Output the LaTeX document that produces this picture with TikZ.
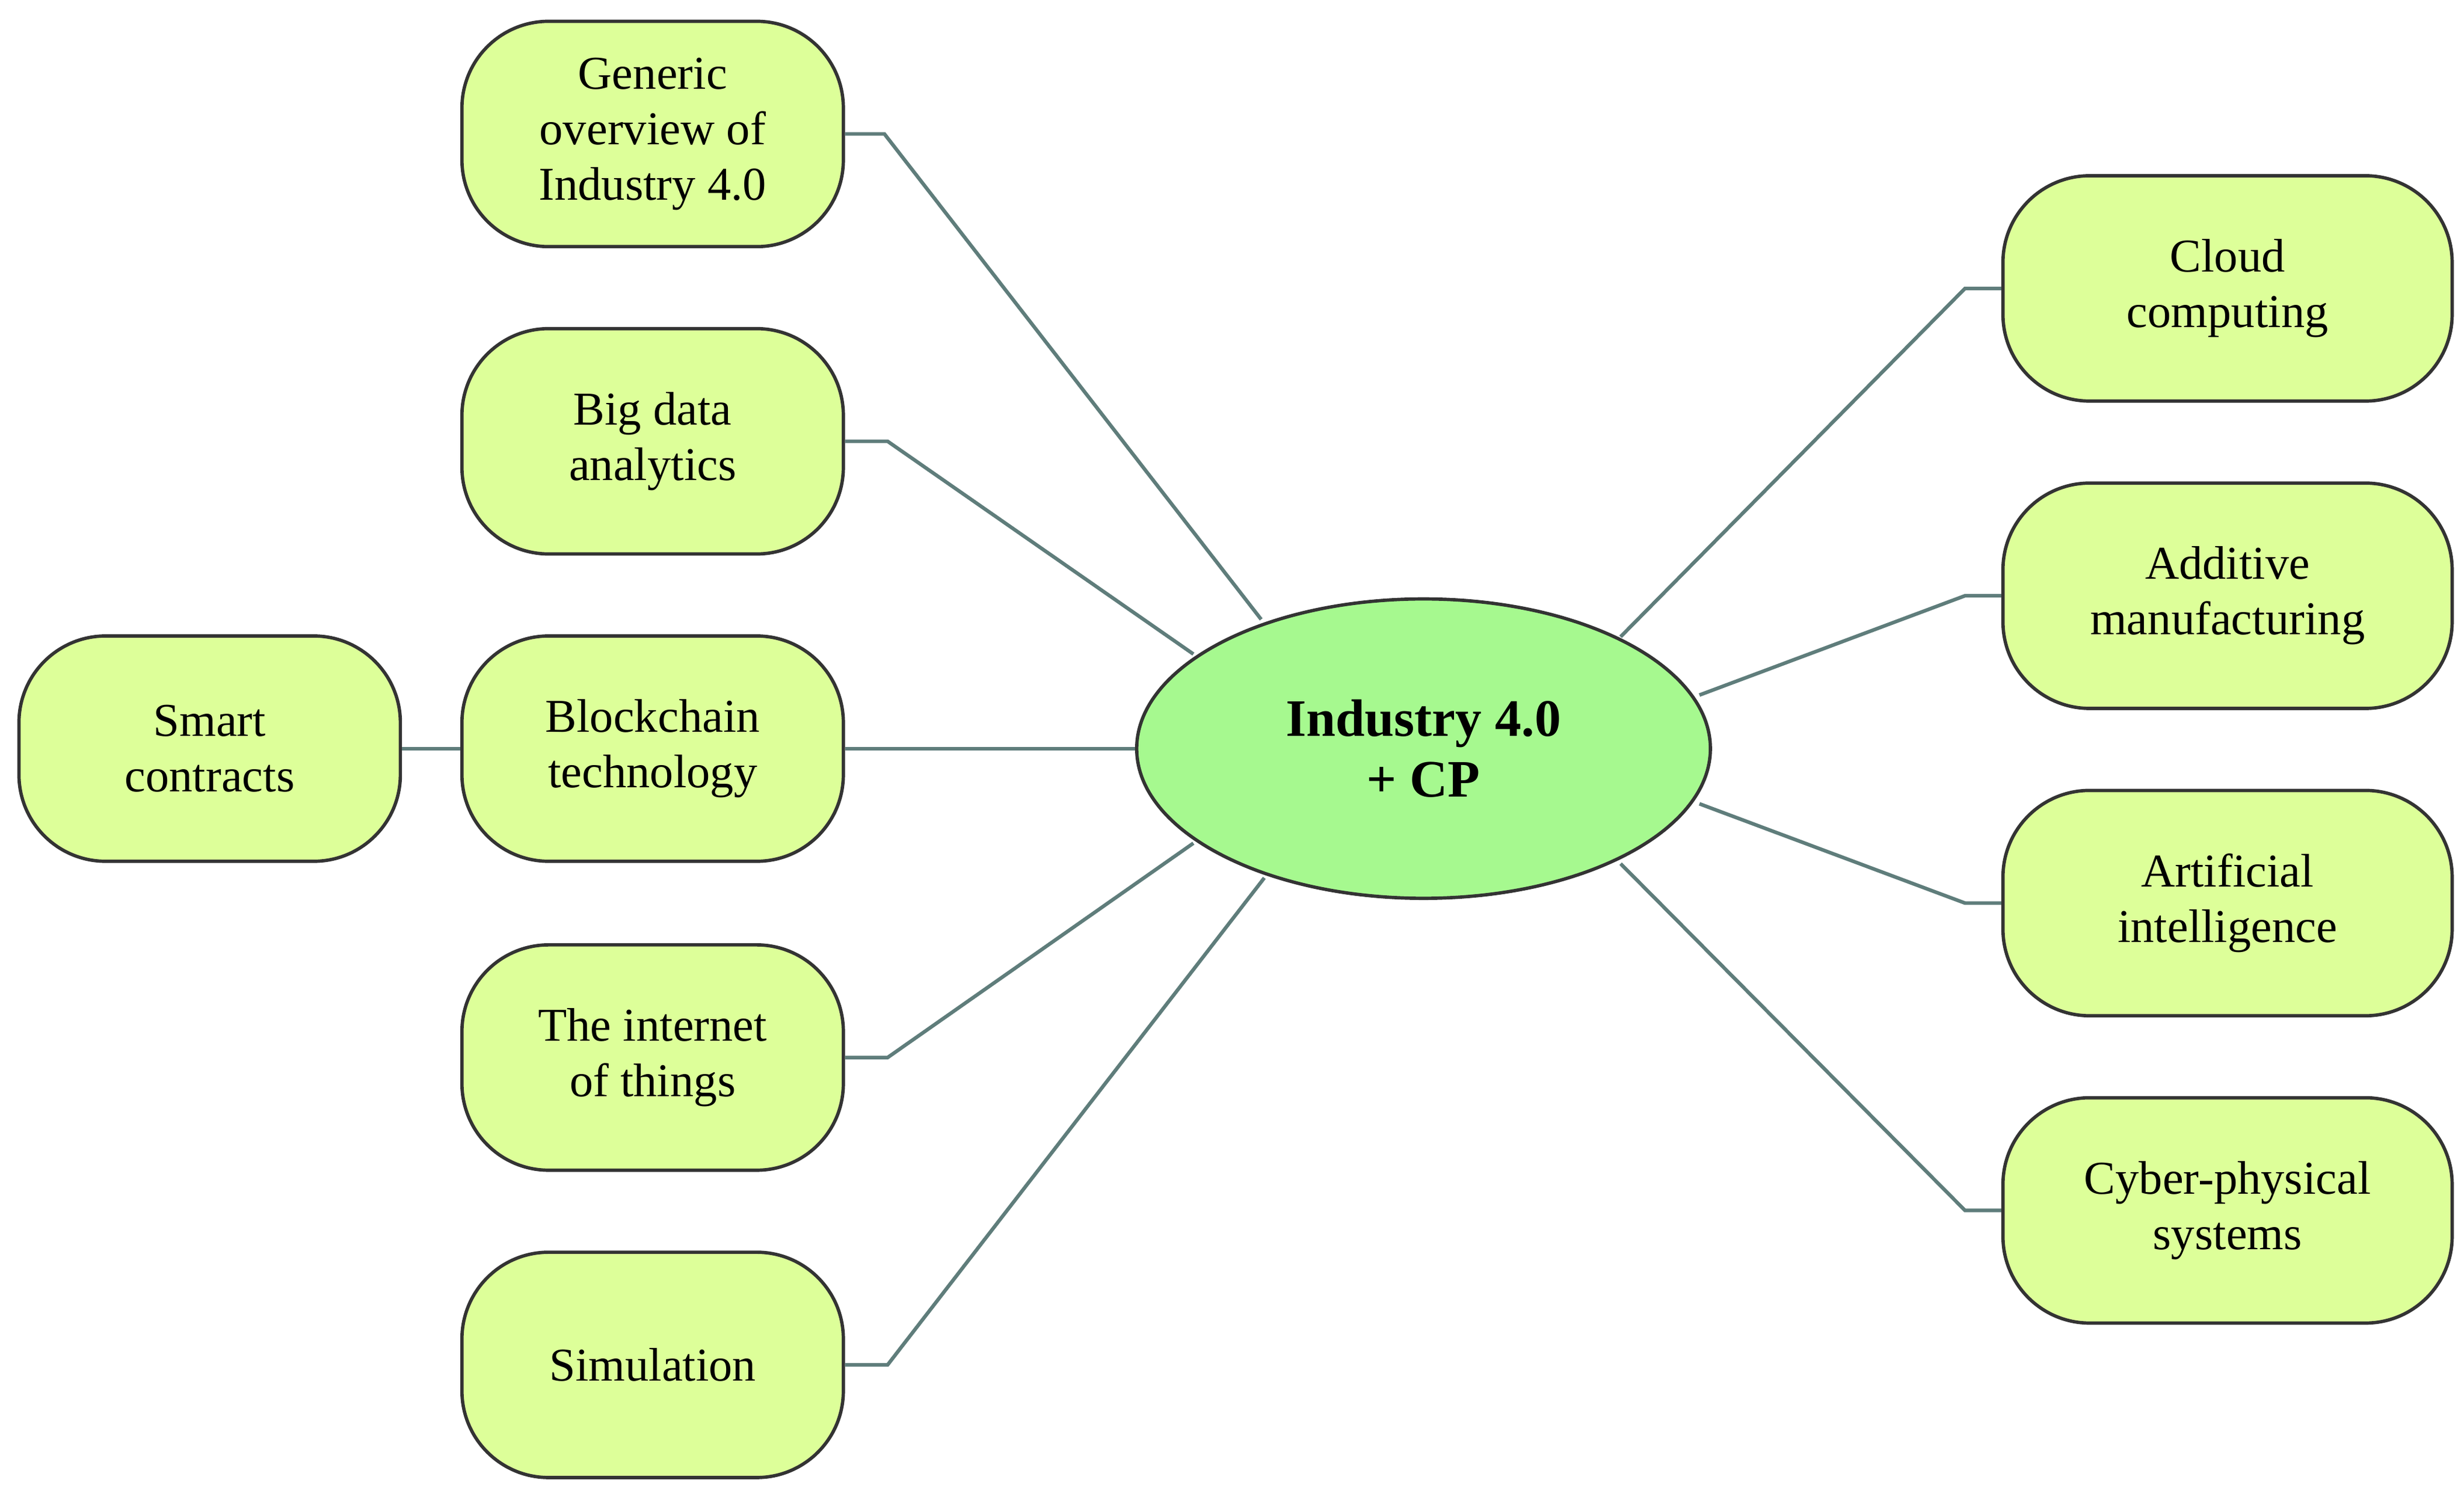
\documentclass[tikz,border=0pt]{standalone}
\usepackage{fontspec}
\setmainfont{Liberation Serif}
\usetikzlibrary{shapes.geometric}
\begin{document}
\begin{tikzpicture}[x=0.02cm,y=-0.02cm,
  box/.style={draw=black!80,line width=1.2pt,fill=boxc,rounded corners=1.1cm,minimum width=4.84cm,minimum height=2.86cm,align=center,font=\fontsize{17}{20}\selectfont,inner sep=2pt},
  rbox/.style={box,minimum width=5.7cm},
  link/.style={draw=linec,line width=1.3pt}]
\definecolor{boxc}{HTML}{DDFF99}
\definecolor{ellc}{HTML}{A6F98F}
\definecolor{linec}{HTML}{5F7D7B}
\useasboundingbox (0,0) rectangle (1563,946);
\node[ellipse,draw=black!80,line width=1.2pt,fill=ellc,minimum width=7.28cm,minimum height=3.8cm,align=center,font=\bfseries\fontsize{19}{22}\selectfont] (c) at (903,475) {Industry 4.0\\+ CP};
\node[box] (g) at (414,85) {Generic\\overview of\\Industry 4.0};
\node[box] (b) at (414,280) {Big data\\analytics};
\node[box] (bc) at (414,475) {Blockchain\\technology};
\node[box] (s) at (133,475) {Smart\\contracts};
\node[box] (i) at (414,671) {The internet\\of things};
\node[box] (sim) at (414,866) {Simulation};
\node[rbox] (cl) at (1413,183) {Cloud\\computing};
\node[rbox] (am) at (1413,378) {Additive\\manufacturing};
\node[rbox] (ai) at (1413,573) {Artificial\\intelligence};
\node[rbox] (cps) at (1413,768) {Cyber-physical\\systems};
\coordinate (pg) at (800,393); \coordinate (pb) at (757,415);
\coordinate (pi) at (757,535); \coordinate (ps) at (802,557);
\coordinate (pcl) at (1028,404); \coordinate (pam) at (1078,441);
\coordinate (pai) at (1078,510); \coordinate (pcps) at (1028,548);
\begin{scope}[on background layer/.style={}]
\draw[link] (g.east) -- ++(25,0) -- (pg);
\draw[link] (b.east) -- ++(27,0) -- (pb);
\draw[link] (bc.east) -- (c.west);
\draw[link] (s.east) -- (bc.west);
\draw[link] (i.east) -- ++(27,0) -- (pi);
\draw[link] (sim.east) -- ++(27,0) -- (ps);
\draw[link] (cl.west) -- ++(-23,0) -- (pcl);
\draw[link] (am.west) -- ++(-23,0) -- (pam);
\draw[link] (ai.west) -- ++(-23,0) -- (pai);
\draw[link] (cps.west) -- ++(-23,0) -- (pcps);
\end{scope}
\end{tikzpicture}
\end{document}
